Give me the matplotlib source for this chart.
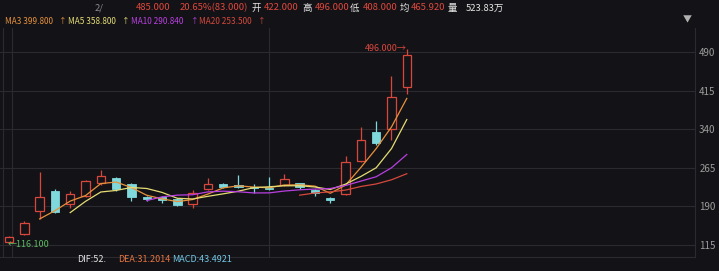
import numpy as np
import pandas as pd
import matplotlib
matplotlib.use("Agg")
import matplotlib.pyplot as plt

plt.rcParams['font.family'] = ['Noto Sans CJK SC', 'DejaVu Sans']

# daily candles
opens = [120, 136, 181, 220, 195, 210, 235, 246, 233, 209, 209, 204, 194, 224,
         234, 231, 228, 226, 232, 235, 222, 207, 214, 279, 334, 340, 422]
closes = [131, 158, 208, 179, 214, 240, 249, 223, 208, 204, 202, 192, 216, 234,
          228, 228, 226.6, 224, 244, 228, 216, 202.4, 276, 318.6, 312.4, 402, 485]
highs = [132, 162, 257, 224, 220, 241, 260, 248, 235, 210, 210, 206, 222, 245,
         235, 251, 233, 248, 253, 236, 224, 208, 287, 344, 355, 444, 496]
lows = [116.1, 135, 165, 177, 187, 208, 232, 220, 201, 200, 196, 190, 186, 222,
        225, 225, 217, 221, 230, 223, 211, 197, 212, 277, 309, 319, 408]
ma_periods = [3, 5, 10, 20]
yticks = [115, 190, 265, 340, 415, 490]

BG = "#131317"
GRID = "#2a2a30"
UP = "#d9473c"
DOWN = "#7ed8dc"
MA_COLORS = ["#e8913a", "#e6dc74", "#b93fe0", "#d5483b"]

W, H = 719, 271
fig = plt.figure(figsize=(W / 100, H / 100), dpi=100, facecolor=BG)
ax = fig.add_axes([0, 14 / H, 695 / W, (257 - 28) / H], facecolor=BG)

x = np.arange(len(closes))
o = np.array(opens)
c = np.array(closes)
hi = np.array(highs)
lo = np.array(lows)
up = c >= o
bottom = np.minimum(o, c)
height = np.maximum(np.abs(c - o), 1.5)

# wicks
ax.vlines(x[up], lo[up], hi[up], color=UP, lw=0.9, zorder=2)
ax.vlines(x[~up], lo[~up], hi[~up], color=DOWN, lw=0.9, zorder=2)
# bodies (hollow red for up days, filled cyan for down days)
ax.bar(x[up], height[up], bottom=bottom[up], width=0.55, facecolor=BG,
       edgecolor=UP, linewidth=0.9, zorder=3)
ax.bar(x[~up], height[~up], bottom=bottom[~up], width=0.55, facecolor=DOWN,
       edgecolor=DOWN, linewidth=0.6, zorder=3)

# moving averages
s = pd.Series(closes)
for p, col in zip(ma_periods, MA_COLORS):
    ax.plot(x, s.rolling(p).mean(), color=col, lw=0.9, zorder=4)

# grid
for v in yticks:
    ax.axhline(v, color=GRID, lw=0.8, zorder=0)
for gx in [-0.39, 0.2, 17.0]:
    ax.axvline(gx, color=GRID, lw=0.8, zorder=0)

ax.set_xlim(-0.59, 44.84)
ax.set_ylim(91.7, 536.6)
ax.yaxis.tick_right()
ax.set_yticks(yticks)
ax.set_yticklabels([str(v) for v in yticks])
ax.tick_params(axis='y', length=0, pad=3, labelsize=7, colors="#9c9c9c")
ax.set_xticks([])
for side in ["top", "left"]:
    ax.spines[side].set_visible(False)
ax.spines["right"].set_color(GRID)
ax.spines["bottom"].set_color(GRID)

# high / low markers
ax.text(26, 496, "496.000\u2192", color=UP, fontsize=6.5, ha="right", va="center")
ax.text(-0.07, 116.1, "\u2190116.100", color="#5dba62", fontsize=6.5,
        ha="left", va="center")


def t(px, py, s, col, size=6.8):
    fig.text(px / W, 1 - py / H, s, color=col, fontsize=size, ha="left", va="center")


RED = "#e0483c"
WHITE = "#e6e6e6"
# header row 1
t(95, 8, "2/", "#8a8a8a")
t(136, 8, "485.000", RED)
t(180, 8, "20.65%(83.000)", RED)
t(252, 8, "开", WHITE)
t(264, 8, "422.000", RED)
t(302, 8, "高", WHITE)
t(315, 8, "496.000", RED)
t(350, 8, "低", WHITE)
t(363, 8, "408.000", RED)
t(400, 8, "均", WHITE)
t(411, 8, "465.920", RED)
t(448, 8, "量", WHITE)
t(466, 8, "523.83万", WHITE)

# header row 2: MA values
ma_labels = ["MA3 399.800", "MA5 358.800", "MA10 290.840", "MA20 253.500"]
ma_x = [5, 68, 131, 199]
arrow_x = [59, 122, 191, 258]
for lab, px, axp, col in zip(ma_labels, ma_x, arrow_x, MA_COLORS):
    t(px, 21, lab, col, 5.9)
    t(axp, 21, "\u2191", col, 5.5)

t(683, 20, "\u25bc", "#b0b0b0", 6.5)

# bottom MACD line
t(77, 260, "DIF:52.", WHITE, 6.5)
t(118, 260, "DEA:31.2014", "#e8743e", 6.5)
t(172, 260, "MACD:43.4921", "#72c6e4", 6.5)

fig.savefig("out.png", dpi=100, facecolor=BG)
